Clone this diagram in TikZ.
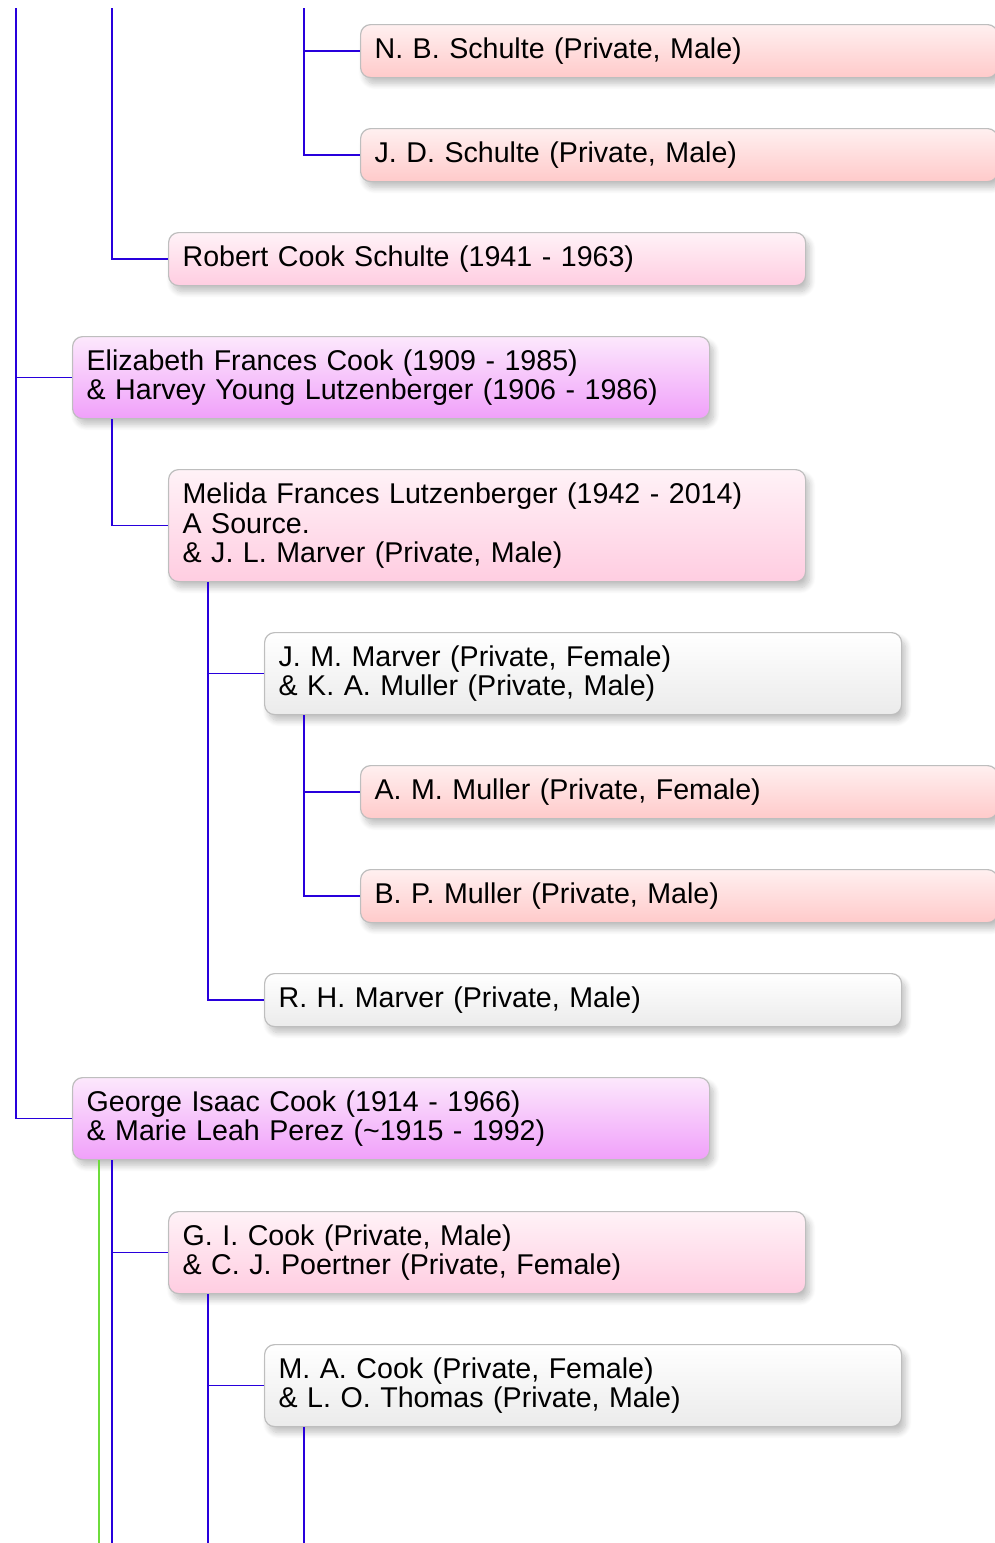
\documentclass[tikz,border=0pt]{standalone}
\usepackage{fontspec}
\setmainfont{Liberation Sans}
\usetikzlibrary{calc, positioning, shadows.blur}
\definecolor{linkblue}{RGB}{40,0,220}
\definecolor{linkgreen}{RGB}{110,220,60}
\definecolor{boxborder}{RGB}{190,190,190}
\tikzset{
    person/.style={rectangle, rounded corners=10pt, draw=boxborder, line width=1.2pt, anchor=north west,
        text width=609pt, align=left, inner xsep=14pt, inner ysep=4pt, minimum height=53pt,
        font=\fontsize{28.6}{29.5}\selectfont,
        blur shadow={shadow xshift=4pt, shadow yshift=-6pt, shadow blur steps=10, shadow blur radius=6pt, shadow opacity=25}},
    salmon/.style={person, top color=red!6, bottom color={rgb,255:red,255;green,202;blue,202}},
    rose/.style={person, top color={rgb,255:red,255;green,242;blue,247}, bottom color={rgb,255:red,255;green,205;blue,225}},
    couple/.style={person, top color={rgb,255:red,252;green,232;blue,252}, bottom color={rgb,255:red,240;green,160;blue,250}},
    plain/.style={person, top color=white, bottom color={rgb,255:red,235;green,235;blue,235}},
    link/.style={linkblue, line width=1.5pt},
    altlink/.style={linkgreen, line width=1.5pt}
}

\begin{document}
\begin{tikzpicture}[x=1pt, y=-1pt]
    \useasboundingbox (0,0) rectangle (995,1543);

    % lines coming from above the picture
    \coordinate (topA) at (16,8);
    \coordinate (topB) at (112,8);
    \coordinate (topC) at (304,8);

    \node (nbs) [salmon] at (360,24) {N. B. Schulte (Private, Male)};
    \node (jds) [salmon] at (360,128) {J. D. Schulte (Private, Male)};
    \node (robert) [rose] at (168,232) {Robert Cook Schulte (1941 - 1963)};
    \node (eliz) [couple, minimum height=82pt] at (72,336) {Elizabeth Frances Cook (1909 - 1985)\\\& Harvey Young Lutzenberger (1906 - 1986)};
    \node (melida) [rose, minimum height=112pt] at (168,469) {Melida Frances Lutzenberger (1942 - 2014)\\A Source.\\\& J. L. Marver (Private, Male)};
    \node (jmm) [plain, minimum height=82pt] at (264,632) {J. M. Marver (Private, Female)\\\& K. A. Muller (Private, Male)};
    \node (amm) [salmon] at (360,765) {A. M. Muller (Private, Female)};
    \node (bpm) [salmon] at (360,869) {B. P. Muller (Private, Male)};
    \node (rhm) [plain] at (264,973) {R. H. Marver (Private, Male)};
    \node (george) [couple, minimum height=82pt] at (72,1077) {George Isaac Cook (1914 - 1966)\\\& Marie Leah Perez (\textasciitilde1915 - 1992)};
    \node (gic) [rose, minimum height=82pt] at (168,1211) {G. I. Cook (Private, Male)\\\& C. J. Poertner (Private, Female)};
    \node (mac) [plain, minimum height=82pt] at (264,1344) {M. A. Cook (Private, Female)\\\& L. O. Thomas (Private, Male)};

    % drop points under the couples
    \coordinate (elizDrop) at ($(eliz.south west)+(40,0)$);
    \coordinate (melidaDrop) at ($(melida.south west)+(40,0)$);
    \coordinate (jmmDrop) at ($(jmm.south west)+(40,0)$);

    % lines going on below the picture
    \coordinate (endG) at (99,1543);
    \coordinate (endB) at (112,1543);
    \coordinate (endC) at (208,1543);
    \coordinate (endD) at (304,1543);

    \draw [link] (topA) |- (george.west);
    \draw [link] (topA |- eliz.west) -- (eliz.west);
    \draw [link] (topB) |- (robert.west);
    \draw [link] (topC) |- (jds.west);
    \draw [link] (topC |- nbs.west) -- (nbs.west);

    \draw [link] (elizDrop) |- (melida.west);
    \draw [link] (melidaDrop) |- (rhm.west);
    \draw [link] (melidaDrop |- jmm.west) -- (jmm.west);
    \draw [link] (jmmDrop) |- (bpm.west);
    \draw [link] (jmmDrop |- amm.west) -- (amm.west);

    \draw [altlink] (george.south west -| endG) -- (endG);
    \draw [link] (george.south west -| endB) -- (endB);
    \draw [link] (endB |- gic.west) -- (gic.west);
    \draw [link] (gic.south west -| endC) -- (endC);
    \draw [link] (endC |- mac.west) -- (mac.west);
    \draw [link] (mac.south west -| endD) -- (endD);
\end{tikzpicture}
\end{document}
